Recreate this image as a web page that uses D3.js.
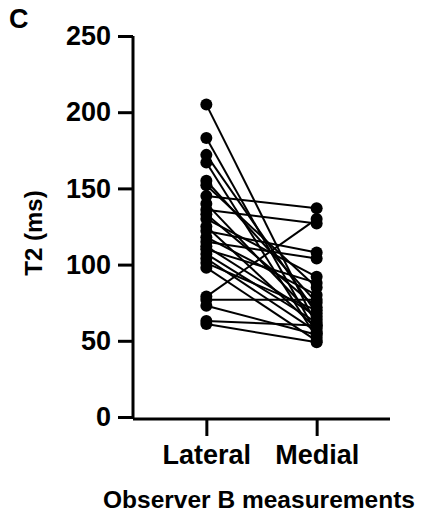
<!DOCTYPE html>
<html>
<head>
<meta charset="utf-8">
<script src="https://cdn.jsdelivr.net/npm/d3@7"></script>
<style>
  body { margin: 0; background: #fff; }
  text { font-family: "Liberation Sans", Arial, sans-serif; font-weight: bold; fill: #000; }
</style>
</head>
<body>
<div id="chart"></div>
<script>
// paired T2 values (ms), observer B
var groups = ["Lateral", "Medial"];
var lateral = [205, 183, 172, 167, 155, 152, 145, 140, 136, 133, 130, 125, 122, 118, 115, 112, 110, 107, 104, 101, 98, 79, 77, 73, 63, 61];
var medial  = [60, 55, 68, 52, 75, 85, 137, 64, 127, 72, 92, 58, 108, 80, 104, 66, 88, 62, 56, 70, 50, 130, 77, 54, 60, 49];
var yTicks = [0, 50, 100, 150, 200, 250];

var W = 430, H = 518;
var svg = d3.select("#chart").append("svg").attr("width", W).attr("height", H);

var x = d3.scalePoint().domain(groups).range([133, 390]).padding(0.665);
var y = d3.scaleLinear().domain([0, 250]).range([417, 36]);

// panel letter
svg.append("text").attr("x", 9).attr("y", 28).style("font-size", "27px").text("C");

// connecting lines
var pairs = lateral.map(function(v, i) { return [v, medial[i]]; });
svg.append("g").selectAll("line").data(pairs).enter().append("line")
    .attr("x1", x("Lateral")).attr("y1", function(d) { return y(d[0]); })
    .attr("x2", x("Medial")).attr("y2", function(d) { return y(d[1]); })
    .attr("stroke", "#000").attr("stroke-width", 2);

// dots
var dots = svg.append("g");
dots.selectAll("circle.lat").data(lateral).enter().append("circle")
    .attr("cx", x("Lateral")).attr("cy", function(d) { return y(d); }).attr("r", 6);
dots.selectAll("circle.med").data(medial).enter().append("circle")
    .attr("cx", x("Medial")).attr("cy", function(d) { return y(d); }).attr("r", 6);

// y axis
var yAxis = svg.append("g").attr("transform", "translate(133,0)")
    .call(d3.axisLeft(y).tickValues(yTicks).tickSize(15).tickPadding(7));
yAxis.select(".domain").attr("d", "M0," + y(250) + "V" + (y(0) + 1.5));

// x axis
var xAxis = svg.append("g").attr("transform", "translate(0,419)")
    .call(d3.axisBottom(x).tickSize(17).tickPadding(9));
xAxis.select(".domain").attr("d", "M133,0H390");

svg.selectAll(".domain, .tick line").attr("stroke", "#000").attr("stroke-width", 3);
yAxis.selectAll(".tick text").style("font-size", "27px").attr("fill", "#000");
xAxis.selectAll(".tick text").style("font-size", "27px").attr("fill", "#000");

// axis titles
svg.append("text").attr("transform", "translate(42,233) rotate(-90)")
    .attr("text-anchor", "middle").style("font-size", "24px").text("T2 (ms)");
svg.append("text").attr("x", 259).attr("y", 508)
    .attr("text-anchor", "middle").style("font-size", "24.5px").text("Observer B measurements");
</script>
</body>
</html>
